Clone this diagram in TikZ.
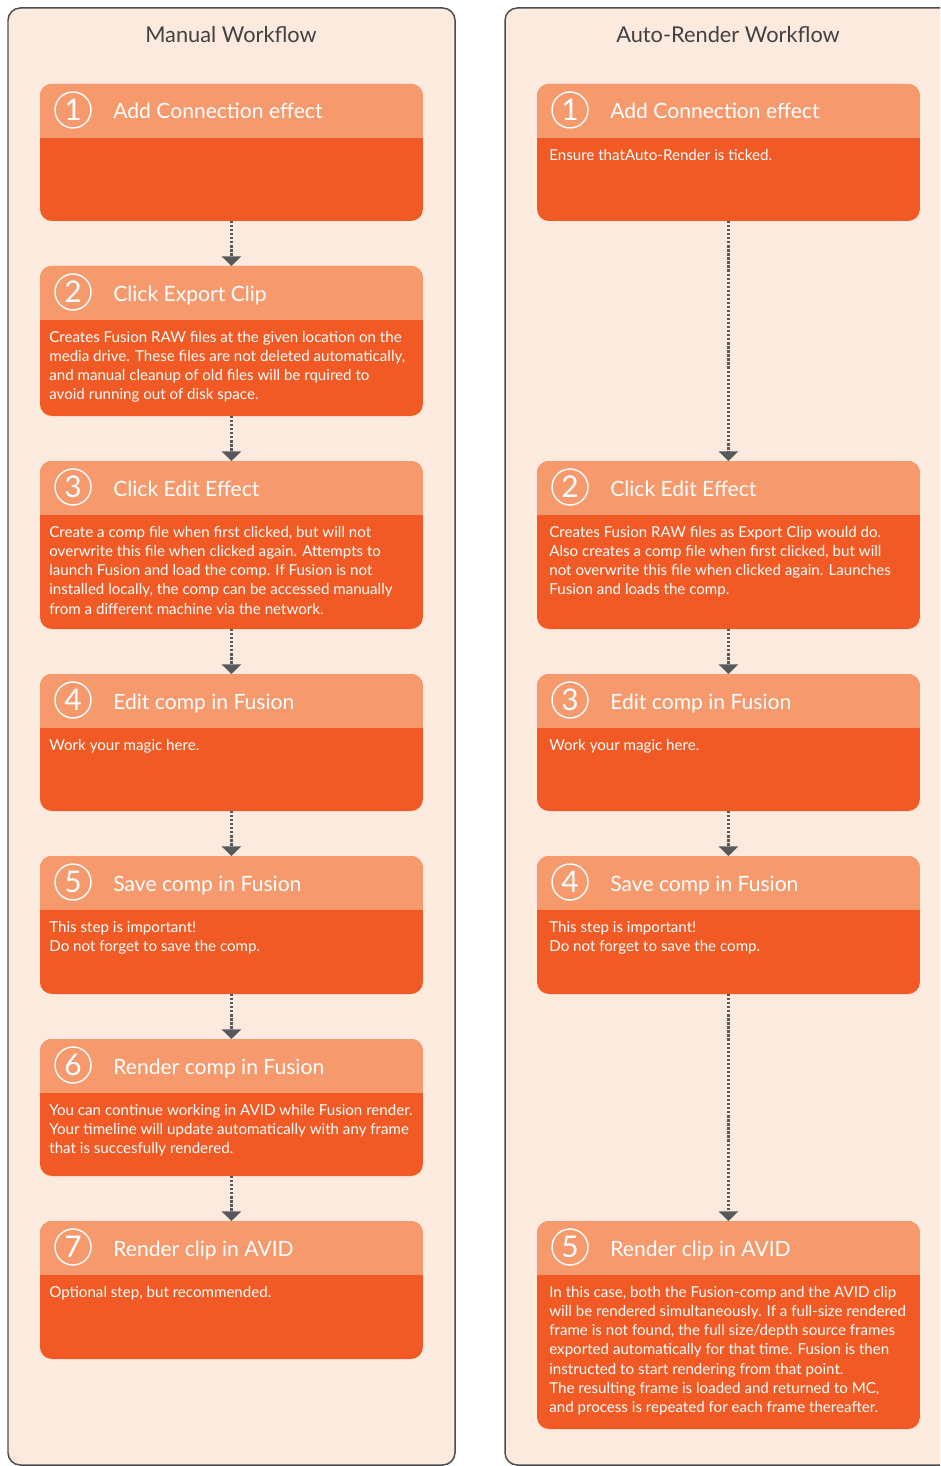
\documentclass[tikz,border=0pt]{standalone}
\usepackage{fontspec}
\setmainfont{Lato}
\usepackage{tikz}
\usetikzlibrary{arrows.meta}
\definecolor{panelfill}{HTML}{FDEADF}
\definecolor{panelline}{HTML}{4D4D4D}
\definecolor{stephead}{HTML}{F6996D}
\definecolor{stepbody}{HTML}{F15A24}
\definecolor{titlegray}{HTML}{414042}
\definecolor{arrowgray}{HTML}{58595B}
\tikzset{
 wf panel/.style={draw=panelline,fill=panelfill,line width=.85pt,rounded corners=7pt},
 wf title/.style={text=titlegray,font=\fontsize{12.4}{14}\selectfont},
 step box/.style={fill=stepbody,rounded corners=6.8pt,anchor=north west,
                  minimum width=7.66cm,inner sep=0pt,outer sep=0pt},
 step head/.style={fill=stephead},
 step num/.style={circle,draw=white,line width=.8pt,minimum size=.72cm,inner sep=0pt,
                  text=white,font=\fontsize{17}{17}\selectfont},
 step title/.style={anchor=base west,text=white,inner sep=0pt,font=\fontsize{12}{14}\selectfont},
 step text/.style={anchor=north west,align=left,text=white,inner sep=0pt,
                   font=\fontsize{8.6}{10.9}\selectfont},
 flow/.style={draw=arrowgray,line width=1.3pt,densely dotted,
              -{Triangle[width=11pt,length=5.5pt]}}
}
\begin{document}
\begin{tikzpicture}[x=.02cm,y=-.02cm]
 \useasboundingbox (0,0) rectangle (940,1466);
 \clip (0,0) rectangle (940,1466);
 % panels
 \draw[wf panel] (8,8) rectangle (455,1465);
 \draw[wf panel] (505,8) rectangle (970,1465);
 \node[wf title] (manual) at (231,35) {Manual Workflow};
 \node[wf title] (auto) at (728,35) {Auto-Render Workflow};
 % manual steps
 \foreach \n/\N/\y/\h/\t/\b in {
   m1/1/84/137/{Add Connection effect}/{},
   m2/2/266/150/{Click Export Clip}/{Creates Fusion RAW files at the given location on the\\
     media drive. These files are not deleted automatically,\\
     and manual cleanup of old files will be rquired to\\
     avoid running out of disk space.},
   m3/3/461/168/{Click Edit Effect}/{Create a comp file when first clicked, but will not\\
     overwrite this file when clicked again. Attempts to\\
     launch Fusion and load the comp. If Fusion is not\\
     installed locally, the comp can be accessed manually\\
     from a different machine via the network.},
   m4/4/674/137/{Edit comp in Fusion}/{Work your magic here.},
   m5/5/856/138/{Save comp in Fusion}/{This step is important!\\
     Do not forget to save the comp.},
   m6/6/1039/137/{Render comp in Fusion}/{You can continue working in AVID while Fusion render.\\
     Your timeline will update automatically with any frame\\
     that is succesfully rendered.},
   m7/7/1221/138/{Render clip in AVID}/{Optional step, but recommended.}}{
   \node[step box,minimum height=\h*.02cm] (\n) at (40,\y) {};
   \begin{scope}
     \clip[rounded corners=6.8pt] (\n.north west) rectangle (\n.south east);
     \fill[step head] (\n.north west) rectangle (423,\y+54);
   \end{scope}
   \node[step num] (\n num) at (73,\y+26) {\N};
   \node[step title] (\n title) at (113,\y+35) {\t};
   \node[step text] (\n text) at (49,\y+65) {\b};
 }
 % auto-render steps
 \foreach \n/\N/\y/\h/\t/\b in {
   a1/1/84/137/{Add Connection effect}/{Ensure thatAuto-Render is ticked.},
   a2/2/461/168/{Click Edit Effect}/{Creates Fusion RAW files as Export Clip would do.\\
     Also creates a comp file when first clicked, but will\\
     not overwrite this file when clicked again. Launches\\
     Fusion and loads the comp.},
   a3/3/674/137/{Edit comp in Fusion}/{Work your magic here.},
   a4/4/856/138/{Save comp in Fusion}/{This step is important!\\
     Do not forget to save the comp.},
   a5/5/1221/208/{Render clip in AVID}/{In this case, both the Fusion-comp and the AVID clip\\
     will be rendered simultaneously. If a full-size rendered\\
     frame is not found, the full size/depth source frames\\
     exported automatically for that time. Fusion is then\\
     instructed to start rendering from that point.\\
     The resulting frame is loaded and returned to MC,\\
     and process is repeated for each frame thereafter.}}{
   \node[step box,minimum height=\h*.02cm] (\n) at (537,\y) {};
   \begin{scope}
     \clip[rounded corners=6.8pt] (\n.north west) rectangle (\n.south east);
     \fill[step head] (\n.north west) rectangle (920,\y+54);
   \end{scope}
   \node[step num] (\n num) at (570,\y+26) {\N};
   \node[step title] (\n title) at (610,\y+35) {\t};
   \node[step text] (\n text) at (549,\y+65) {\b};
 }
 % connectors
 \foreach \a/\b in {m1/m2,m2/m3,m3/m4,m4/m5,m5/m6,m6/m7,a1/a2,a2/a3,a3/a4,a4/a5}
   \draw[flow] (\a.south) -- (\b.north);
\end{tikzpicture}
\end{document}
